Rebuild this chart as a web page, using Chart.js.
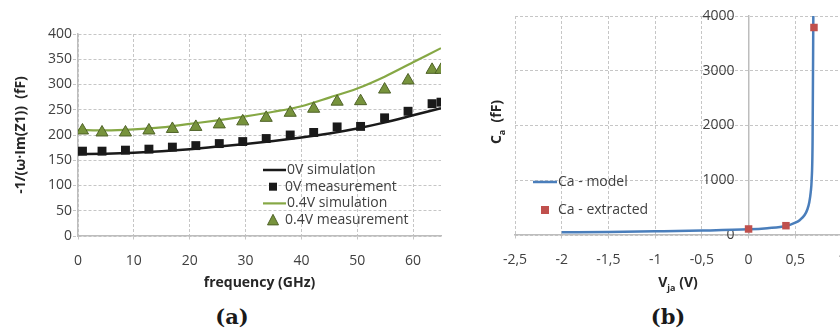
<!DOCTYPE html>
<html>
<head>
<meta charset="utf-8">
<script src="https://cdn.jsdelivr.net/npm/chart.js@4.4.1/dist/chart.umd.min.js"></script>
<style>
  html, body { margin: 0; padding: 0; background: #fff; overflow: hidden; }
  #wrap { position: relative; width: 840px; height: 336px; overflow: hidden; }
  #chartA { position: absolute; left: 0; top: 0; }
  #chartB { position: absolute; left: 460px; top: 0; }
  .cap { position: absolute; top: 304px; width: 80px; text-align: center;
         font-family: "DejaVu Serif", serif; font-weight: bold; font-size: 21px; color: #1a1a1a; }
</style>
</head>
<body>
<div id="wrap">
  <canvas id="chartA" width="460" height="300"></canvas>
  <canvas id="chartB" width="400" height="300"></canvas>
  <div class="cap" style="left:192px">(a)</div>
  <div class="cap" style="left:628px">(b)</div>
</div>
<script>
// (a) -1/(w*Im(Z1)) vs frequency
const freqSim = [0, 5, 10, 15, 20, 25, 30, 35, 40, 45, 50, 55, 60, 65];
const sim0V   = [162, 163, 165, 168, 172, 177, 182, 188, 195, 203, 213, 225, 239, 253];
const sim04V  = [210, 209, 211, 215, 222, 229, 237, 246, 257, 274, 292, 316, 344, 372];

const freqMeas = [0.8, 4.3, 8.5, 12.7, 16.9, 21.1, 25.3, 29.5, 33.7, 38.0, 42.2, 46.4, 50.6, 54.9, 59.1, 63.4, 65.0];
const meas0V   = [168, 168, 170, 172, 176, 179, 183, 187, 193, 200, 205, 216, 217, 234, 247, 262, 265];
const meas04V  = [209, 205, 205, 209, 212, 216, 221, 227, 234, 244, 252, 266, 267, 290, 308, 329, 329];

// (b) Ca vs Vja
const vjaModel = [-2, -1.5, -1, -0.5, 0, 0.2, 0.4, 0.5, 0.55, 0.6, 0.63, 0.65, 0.665, 0.675, 0.685, 0.693];
const caModel  = [50, 57, 67, 80, 103, 125, 164, 225, 275, 365, 470, 600, 780, 1000, 1700, 4000];
const vjaExtr  = [0, 0.4, 0.7];
const caExtr   = [110, 170, 3790];

const FONT = "'Open Sans', sans-serif";
const TICK_COLOR = '#404040';
const TITLE_COLOR = '#262626';
const GRID = '#c6c6c6';
const AXIS = '#bdbdbd';

function pts(xs, ys) {
  return xs.map((x, i) => ({ x: x, y: ys[i] }));
}

function drawMarker(ctx, style, x, y, size, fill, stroke) {
  ctx.save();
  ctx.fillStyle = fill;
  if (style === 'rect') {
    ctx.fillRect(x - size / 2, y - size / 2, size, size);
  } else if (style === 'triangle') {
    const h = size * 0.87;
    ctx.beginPath();
    ctx.moveTo(x, y - h / 2 - 1);
    ctx.lineTo(x + size / 2, y + h / 2);
    ctx.lineTo(x - size / 2, y + h / 2);
    ctx.closePath();
    ctx.fill();
    if (stroke) { ctx.strokeStyle = stroke; ctx.lineWidth = 1; ctx.stroke(); }
  }
  ctx.restore();
}

// legend drawn inside the plot area
const insideLegend = {
  id: 'insideLegend',
  afterDraw(chart, args, opts) {
    const ctx = chart.ctx;
    ctx.save();
    ctx.font = opts.font;
    ctx.textBaseline = 'middle';
    ctx.fillStyle = TICK_COLOR;
    opts.items.forEach((it, i) => {
      const ds = chart.data.datasets[it.index];
      const y = opts.y + i * opts.gap;
      if (ds.showLine) {
        ctx.save();
        ctx.strokeStyle = ds.borderColor;
        ctx.lineWidth = ds.borderWidth;
        ctx.beginPath();
        ctx.moveTo(opts.lineX0, y);
        ctx.lineTo(opts.lineX1, y);
        ctx.stroke();
        ctx.restore();
        ctx.fillText(ds.label, opts.lineX1 + 1, y);
      } else {
        drawMarker(ctx, ds.pointStyle, opts.markX, y, it.size, ds.backgroundColor, ds.pointBorderColor);
        ctx.fillStyle = TICK_COLOR;
        ctx.fillText(ds.label, opts.textX, y);
      }
    });
    ctx.restore();
  }
};

// axis titles with subscripts
function drawRich(ctx, parts, x, y, rotate) {
  ctx.save();
  ctx.translate(x, y);
  if (rotate) ctx.rotate(-Math.PI / 2);
  const big = "bold 14px " + FONT;
  const small = "bold 9px " + FONT;
  let w = 0;
  parts.forEach(p => { ctx.font = p.sub ? small : big; w += ctx.measureText(p.t).width; });
  let cx = -w / 2;
  ctx.fillStyle = TITLE_COLOR;
  ctx.textBaseline = 'middle';
  parts.forEach(p => {
    ctx.font = p.sub ? small : big;
    ctx.fillText(p.t, cx, p.sub ? 5 : 0);
    cx += ctx.measureText(p.t).width;
  });
  ctx.restore();
}

const richTitles = {
  id: 'richTitles',
  afterDraw(chart, args, opts) {
    opts.items.forEach(it => drawRich(chart.ctx, it.parts, it.x, it.y, it.rotate));
  }
};

function tickFont() { return { family: FONT, size: 14 }; }

new Chart(document.getElementById('chartA'), {
  type: 'scatter',
  data: {
    datasets: [
      { label: '0V simulation', data: pts(freqSim, sim0V), showLine: true, borderColor: '#1a1a1a',
        borderWidth: 2.5, pointRadius: 0, cubicInterpolationMode: 'monotone', order: 3 },
      { label: '0V measurement', data: pts(freqMeas, meas0V), pointStyle: 'rect', pointRadius: 6.3,
        backgroundColor: '#1a1a1a', pointBorderColor: null, borderWidth: 0, order: 1 },
      { label: '0.4V simulation', data: pts(freqSim, sim04V), showLine: true, borderColor: '#86a845',
        borderWidth: 2.2, pointRadius: 0, cubicInterpolationMode: 'monotone', order: 4 },
      { label: '0.4V measurement', data: pts(freqMeas, meas04V), pointStyle: 'triangle', pointRadius: 7,
        backgroundColor: '#77933c', pointBorderColor: '#4f6228', borderColor: '#4f6228', borderWidth: 1, order: 2 }
    ]
  },
  options: {
    responsive: false,
    animation: false,
    devicePixelRatio: 1,
    layout: { padding: { left: 0, top: 34, right: 19, bottom: 0 } },
    plugins: {
      legend: { display: false },
      tooltip: { enabled: false },
      insideLegend: {
        font: "14px " + FONT, y: 170, gap: 16.7, lineX0: 263, lineX1: 286, markX: 273, textX: 285,
        items: [{ index: 0 }, { index: 1, size: 8 }, { index: 2 }, { index: 3, size: 11 }]
      }
    },
    scales: {
      x: {
        type: 'linear', min: 0, max: 65,
        ticks: { stepSize: 10, includeBounds: false, color: TICK_COLOR, font: tickFont(), padding: 12, maxRotation: 0 },
        grid: { color: GRID, tickLength: 5, tickColor: GRID, tickBorderDash: [3, 2] },
        border: { display: true, color: AXIS, width: 1.5, dash: [3, 2] },
        title: { display: true, text: 'frequency (GHz)', color: TITLE_COLOR,
                 font: { family: FONT, size: 14, weight: 'bold' }, padding: { top: 0, bottom: 9 } },
        afterFit(s) { s.height = 64; }
      },
      y: {
        min: 0, max: 400,
        ticks: { stepSize: 50, color: TICK_COLOR, font: tickFont(), padding: 1 },
        grid: { color: GRID, tickLength: 5, tickColor: GRID, tickBorderDash: [3, 2] },
        border: { display: true, color: AXIS, width: 1.5, dash: [3, 2] },
        title: { display: true, text: '-1/(ω·Im(Z1))  (fF)', color: TITLE_COLOR,
                 font: { family: FONT, size: 14, weight: 'bold' }, padding: { top: 13, bottom: 0 } },
        afterFit(s) { s.width = 78; }
      }
    }
  },
  plugins: [insideLegend]
});

new Chart(document.getElementById('chartB'), {
  type: 'scatter',
  data: {
    datasets: [
      { label: 'Ca - model', data: pts(vjaModel, caModel), showLine: true, borderColor: '#4a7ebb',
        borderWidth: 2.5, pointRadius: 0, cubicInterpolationMode: 'monotone', order: 2 },
      { label: 'Ca - extracted', data: pts(vjaExtr, caExtr), pointStyle: 'rect', pointRadius: 5.3,
        backgroundColor: '#c0504d', pointBorderColor: null, borderWidth: 0, order: 1 }
    ]
  },
  options: {
    responsive: false,
    animation: false,
    devicePixelRatio: 1,
    layout: { padding: { left: 55, top: 16, right: 18, bottom: 0 } },
    plugins: {
      legend: { display: false },
      tooltip: { enabled: false },
      insideLegend: {
        font: "14px " + FONT, y: 182, gap: 28, lineX0: 73, lineX1: 97, markX: 85, textX: 98,
        items: [{ index: 0 }, { index: 1, size: 8 }]
      },
      richTitles: {
        items: [
          { parts: [{ t: 'V' }, { t: 'ja', sub: true }, { t: ' (V)' }], x: 218, y: 283 },
          { parts: [{ t: 'C' }, { t: 'a', sub: true }, { t: '  (fF)' }], x: 37, y: 122, rotate: true }
        ]
      }
    },
    scales: {
      x: {
        type: 'linear', min: -2.5, max: 1,
        ticks: { stepSize: 0.5, color: TICK_COLOR, font: tickFont(), padding: 12, maxRotation: 0,
                 callback: v => String(v).replace('.', ',') },
        grid: { color: GRID, tickLength: 5, tickColor: GRID, tickBorderDash: [3, 2] },
        border: { display: true, color: AXIS, width: 1.5, dash: [3, 2] },
        afterFit(s) { s.height = 65; }
      },
      y: {
        type: 'linear', position: { x: 0 }, min: 0, max: 4000,
        // labels sit right-aligned on the axis when it is placed at x = 0, so pad them with spaces
        ticks: { stepSize: 1000, color: TICK_COLOR, font: tickFont(),
                 callback: v => String(v) + '\u2002\u2002' },
        grid: { color: GRID, tickLength: 5, tickColor: GRID, tickBorderDash: [3, 2] },
        border: { display: true, color: AXIS, width: 1.5, dash: [3, 2] }
      }
    }
  },
  plugins: [insideLegend, richTitles]
});
</script>
</body>
</html>
